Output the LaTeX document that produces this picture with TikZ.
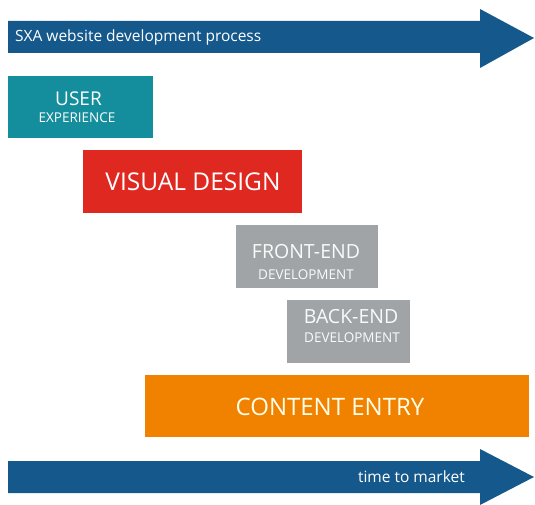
\documentclass[tikz,border=0pt]{standalone}
\usepackage{fontspec}
\setmainfont{Open Sans}
\definecolor{sxablue}{RGB}{21,88,140}
\definecolor{sxateal}{RGB}{20,142,156}
\definecolor{sxared}{RGB}{223,40,32}
\definecolor{sxagrey}{RGB}{161,164,167}
\definecolor{sxaorange}{RGB}{241,130,0}
\tikzset{
  phase/.style={anchor=north west, inner sep=0pt, outer sep=0pt},
  lbl/.style={anchor=base, inner sep=0pt, text=white},
  greylbl/.style={anchor=base, inner sep=0pt, text=white!94!sxagrey},
}
\begin{document}
\begin{tikzpicture}[x=1pt,y=-1pt]
\useasboundingbox (0,0) rectangle (535,505);
% top arrow
\fill[sxablue] (8,21) -- (480,21) -- (480,9) -- (534,38) -- (480,68) -- (480,53) -- (8,53) -- cycle;
\node[anchor=base west, inner sep=0pt, text=white, font=\fontsize{15.5}{17}\selectfont] (title) at (15,42) {SXA website development process};
% bottom arrow
\fill[sxablue] (8,461) -- (480,461) -- (480,449) -- (534,477) -- (480,505) -- (480,493) -- (8,493) -- cycle;
\node[anchor=base east, inner sep=0pt, text=white, font=\fontsize{15.5}{17}\selectfont] (ttm) at (465,482) {time to market};
% phases
\node[phase, fill=sxateal, minimum width=145pt, minimum height=62pt] (ux) at (8,76) {};
\node[lbl, font=\fontsize{19}{21}\selectfont] (ux1) at (78.5,106) {USER};
\node[lbl, font=\fontsize{13.5}{15}\selectfont] (ux2) at (77,123) {EXPERIENCE};
\node[phase, fill=sxared, minimum width=219pt, minimum height=63pt] (vd) at (83,150) {};
\node[lbl, font=\fontsize{24.5}{28}\selectfont] (vd1) at (193,190) {VISUAL DESIGN};
\node[phase, fill=sxagrey, minimum width=142pt, minimum height=63pt] (fe) at (236,225) {};
\node[greylbl, font=\fontsize{19.5}{22}\selectfont] (fe1) at (306,258) {FRONT-END};
\node[greylbl, font=\fontsize{13.5}{15}\selectfont] (fe2) at (306,279) {DEVELOPMENT};
\node[phase, fill=sxagrey, minimum width=123pt, minimum height=63pt] (be) at (287,300) {};
\node[greylbl, font=\fontsize{19.5}{22}\selectfont] (be1) at (351,323) {BACK-END};
\node[greylbl, font=\fontsize{13.5}{15}\selectfont] (be2) at (352,342) {DEVELOPMENT};
\node[phase, fill=sxaorange, minimum width=384pt, minimum height=62pt] (ce) at (145,375) {};
\node[lbl, text=white!92!yellow, font=\fontsize{24}{27}\selectfont] (ce1) at (330,415) {CONTENT ENTRY};
\end{tikzpicture}
\end{document}
